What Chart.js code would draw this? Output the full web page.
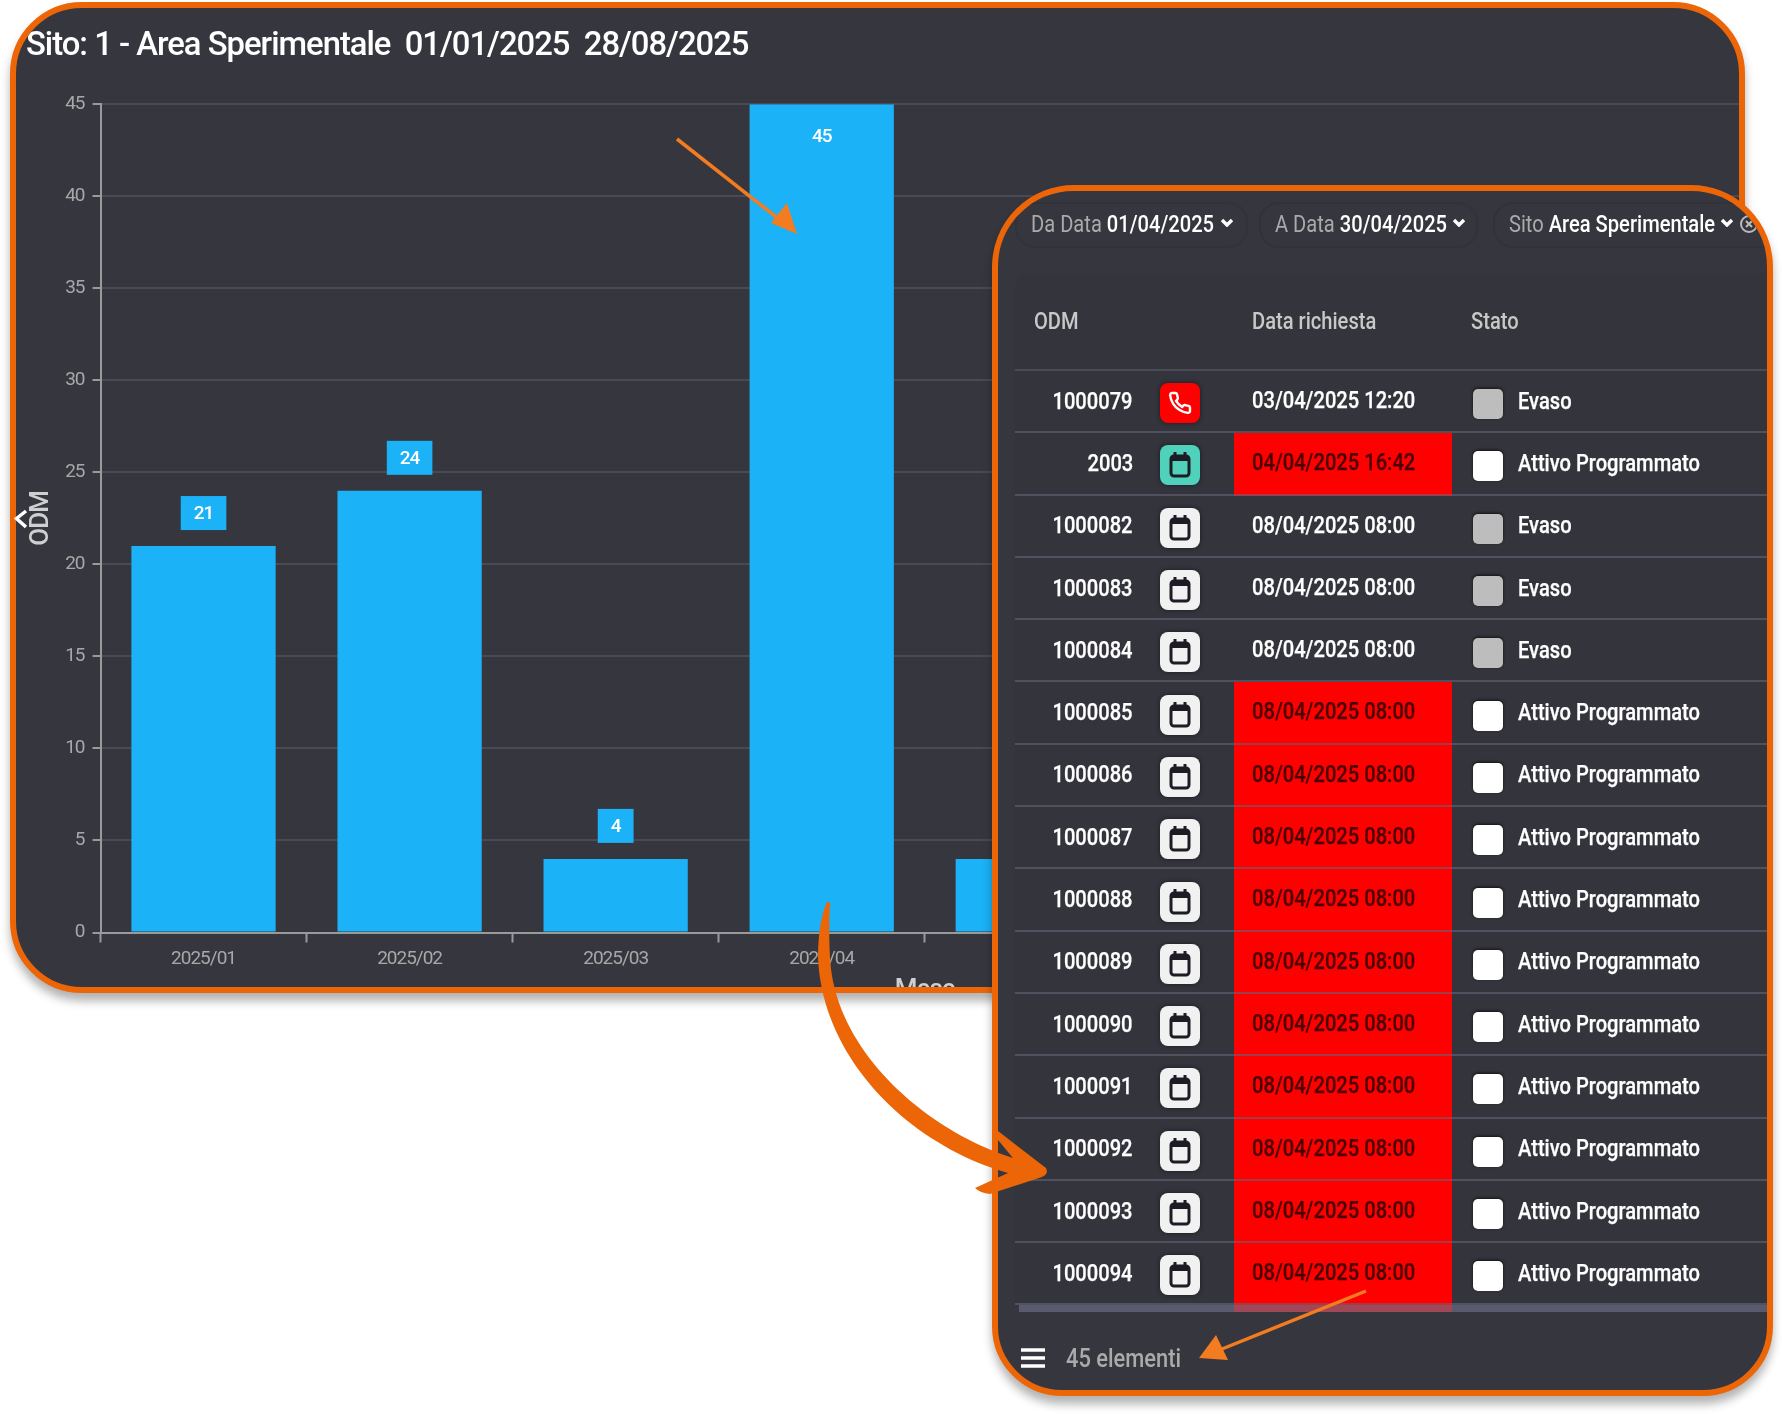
<!DOCTYPE html>
<html>
<head>
<meta charset="utf-8">
<title>ODM</title>
<script src="https://cdn.jsdelivr.net/npm/chart.js@4/dist/chart.umd.min.js"></script>
<style>
    html, body { margin: 0; padding: 0; background: #fff; }
    body { position: relative; width: 1782px; height: 1414px; overflow: hidden; font-family: Roboto, sans-serif; }
    .card {
        position: absolute; box-sizing: border-box; border: 6px solid #ec6608;
        background: #36363f; overflow: hidden; box-shadow: 0 8px 10px rgba(0, 0, 0, .3);
    }
    #chartCard { left: 10px; top: 2px; width: 1735px; height: 991px; border-radius: 72px; }
    #chart { position: absolute; left: 0; top: 0; }
    #tableCard { left: 992px; top: 185px; width: 781px; height: 1211px; border-radius: 82px 82px 70px 70px; color: #fff; }
    /* the UI font sits narrow in this screenshot-like panel */
    .t { display: inline-block; white-space: nowrap; transform: scaleX(.875); transform-origin: 0 50%; }
    .pill {
        position: absolute; top: 11px; height: 46px; box-sizing: border-box; border: 2px solid #32323a;
        border-radius: 20px; font-size: 23px; line-height: 42px; padding-left: 14px; white-space: nowrap; color: #aaa;
    }
    .pill b { font-weight: 500; color: #fff; }
    .pill svg { position: absolute; }
    #tableBox { position: absolute; left: 17px; top: 82px; right: 0; height: 1030px; background: #34343d; border-radius: 14px 0 0 0; }
    .head { position: absolute; top: 118px; font-size: 23px; font-weight: 500; color: #c8c8c8; line-height: 26px; }
    #rows { position: absolute; left: 17px; right: 0; top: 178px; border-top: 2px solid #4a4a56; }
    .row { position: relative; height: 62.3px; display: flex; align-items: center; font-size: 23px; font-weight: 500; -webkit-text-stroke: .25px; }
    .row::after { content: ""; position: absolute; left: 0; right: 0; bottom: 0; height: 2px; background: rgba(100, 100, 120, .6); }
    .odm { width: 118px; text-align: right; margin-top: -2px; }
    .odm .t { transform-origin: 100% 50%; }
    .icon { width: 40px; height: 40px; margin-left: 27px; margin-top: 2px; border-radius: 8px; box-shadow: 0 0 4px #1a1a20; display: block; }
    .when { position: relative; width: 218px; margin-left: 34px; height: 100%; box-sizing: border-box; padding-left: 18px; line-height: 59px; }
    .when.late { background: #f00; color: #4a0000; }
    .box { width: 30px; height: 30px; margin-left: 21px; margin-top: 4px; border-radius: 5px; box-shadow: 0 -1px 3px #111; }
    .label { margin-left: 15px; margin-top: -2px; }
    #band { position: absolute; left: 21px; right: 0; top: 1114px; height: 7px; background: rgba(110, 110, 135, .65); }
    #lateEnd { position: absolute; left: 236px; top: 1114px; width: 218px; height: 7px; background: #f00; }
    #menu { position: absolute; left: 23px; top: 1156px; width: 24px; height: 22px; }
    #count { position: absolute; left: 68px; top: 1155px; font-size: 25px; font-weight: 500; line-height: 26px; color: #aaa; }
    #overlay { position: absolute; left: 0; top: 0; z-index: 5; pointer-events: none; }
</style>
</head>
<body>

<div class="card" id="chartCard"><canvas id="chart" width="1740" height="1001"></canvas></div>

<div class="card" id="tableCard">
    <div class="pill" style="left:17px;width:233px"><span class="t">Da Data <b>01/04/2025</b></span><svg style="left:203px;top:14px" width="14" height="9" viewBox="0 0 14 9"><path d="M2 2l5 5 5-5" fill="none" stroke="#fff" stroke-width="3.4"/></svg></div>
    <div class="pill" style="left:261px;width:219px"><span class="t">A Data <b>30/04/2025</b></span><svg style="left:191px;top:14px" width="14" height="9" viewBox="0 0 14 9"><path d="M2 2l5 5 5-5" fill="none" stroke="#fff" stroke-width="3.4"/></svg></div>
    <div class="pill" style="left:495px;width:300px"><span class="t">Sito <b>Area Sperimentale</b></span><svg style="left:225px;top:14px" width="14" height="9" viewBox="0 0 14 9"><path d="M2 2l5 5 5-5" fill="none" stroke="#fff" stroke-width="3.4"/></svg>
        <svg style="left:244px;top:10px" width="20" height="20" viewBox="0 0 20 20"><circle cx="10" cy="10" r="8" fill="none" stroke="#bbb" stroke-width="2"/><path d="M7 7l6 6M13 7l-6 6" stroke="#bbb" stroke-width="2"/></svg></div>
    <div id="tableBox"></div>
    <div class="head" style="left:36px"><span class="t">ODM</span></div>
    <div class="head" style="left:254px"><span class="t">Data richiesta</span></div>
    <div class="head" style="left:473px"><span class="t">Stato</span></div>
    <div id="rows"></div>
    <div id="lateEnd"></div>
    <div id="band"></div>
    <svg id="menu" viewBox="0 0 24 22"><path d="M0 3h24M0 11h24M0 19h24" stroke="#fff" stroke-width="3.4"/></svg>
    <div id="count"><span class="t">45 elementi</span></div>
</div>

<svg id="overlay" width="1782" height="1414">
    <path d="M26 511L16.500 518.500L26 527" fill="none" stroke="#fff" stroke-width="3.5"/>
    <!-- thin pointers -->
    <path d="M677 139L780 220" stroke="#f47c20" stroke-width="3.500" fill="none"/>
    <path d="M797 234L771 223L787 203Z" fill="#f47c20"/>
    <path d="M1366 1291L1222 1349" stroke="#f47c20" stroke-width="3.500" fill="none"/>
    <path d="M1199 1358L1216 1335L1228 1360Z" fill="#f47c20"/>
    <!-- thick curved arrow from the april bar to the table -->
    <path d="M827 902L830 902C829 920 829 940 830 957C834 1050 925 1130 1013 1158L998 1140L998 1131L1046 1168Q1049 1174 1042 1177L990 1194Q980 1193 975 1188L1008 1173C910 1145 822 1060 818 957C818 935 821 915 827 902Z" fill="#ec6608"/>
</svg>

<script>
var months = ['2025/01', '2025/02', '2025/03', '2025/04', '2025/05', '2025/06', '2025/07', '2025/08'];
var odmCounts = [21, 24, 4, 45, 4, null, null, null];
var yTicks = [0, 5, 10, 15, 20, 25, 30, 35, 40, 45];

var odmIds = ['1000079', '2003', '1000082', '1000083', '1000084', '1000085', '1000086', '1000087', '1000088', '1000089', '1000090', '1000091', '1000092', '1000093', '1000094'];
var requestDates = ['03/04/2025 12:20', '04/04/2025 16:42', '08/04/2025 08:00', '08/04/2025 08:00', '08/04/2025 08:00', '08/04/2025 08:00', '08/04/2025 08:00', '08/04/2025 08:00', '08/04/2025 08:00', '08/04/2025 08:00', '08/04/2025 08:00', '08/04/2025 08:00', '08/04/2025 08:00', '08/04/2025 08:00', '08/04/2025 08:00'];
var statuses = ['Evaso', 'Attivo Programmato', 'Evaso', 'Evaso', 'Evaso', 'Attivo Programmato', 'Attivo Programmato', 'Attivo Programmato', 'Attivo Programmato', 'Attivo Programmato', 'Attivo Programmato', 'Attivo Programmato', 'Attivo Programmato', 'Attivo Programmato', 'Attivo Programmato'];

var BAR_COLOR = '#1bb2f8';

// tighter tracking for every text the chart paints
var tightText = {
    id: 'tightText',
    beforeDraw: function (chart) {
        chart.ctx.letterSpacing = '-1px';
    }
};

// value badges over the bars, the tallest one stays inside its bar
var barBadges = {
    id: 'barBadges',
    afterDatasetsDraw: function (chart) {
        var ctx = chart.ctx;
        var area = chart.chartArea;
        ctx.save();
        ctx.font = '500 19px Roboto';
        ctx.textAlign = 'center';
        ctx.textBaseline = 'middle';
        chart.getDatasetMeta(0).data.forEach(function (bar, i) {
            var value = odmCounts[i];
            if (value === null) return;
            var text = String(value);
            var w = ctx.measureText(text).width + 26;
            var h = 34;
            var cy = bar.y - 33;
            if (cy - h / 2 < area.top) cy = bar.y + 32;
            ctx.fillStyle = BAR_COLOR;
            ctx.fillRect(bar.x - w / 2, cy - h / 2, w, h);
            ctx.fillStyle = '#fff';
            ctx.fillText(text, bar.x, cy + 1);
        });
        ctx.restore();
    }
};

new Chart(document.getElementById('chart'), {
    type: 'bar',
    data: {
        labels: months,
        datasets: [{
            data: odmCounts,
            backgroundColor: BAR_COLOR,
            categoryPercentage: 0.7,
            barPercentage: 1
        }]
    },
    plugins: [tightText, barBadges],
    options: {
        responsive: false,
        animation: false,
        layout: { padding: { left: 10, right: 7 } },
        plugins: {
            legend: { display: false },
            tooltip: { enabled: false },
            title: {
                display: true,
                text: 'Sito: 1 - Area Sperimentale  01/01/2025  28/08/2025',
                align: 'start',
                color: '#fff',
                font: { family: 'Roboto', size: 32.8, weight: '500', lineHeight: 1.2 },
                padding: { top: 19, bottom: 38 }
            }
        },
        scales: {
            x: {
                afterFit: function (scale) { scale.height = 76.5; },
                grid: { drawOnChartArea: false, tickColor: '#9a9a9a', tickLength: 10, tickWidth: 2 },
                border: { color: '#9a9a9a', width: 2 },
                ticks: { color: '#a8a8a8', font: { family: 'Roboto', size: 19 }, padding: 5, maxRotation: 0 },
                title: {
                    display: true,
                    text: 'Mese',
                    color: '#cfcfcf',
                    font: { family: 'Roboto', size: 26, weight: '500' },
                    padding: { top: 0, bottom: 3 }
                }
            },
            y: {
                min: 0,
                max: 45,
                afterFit: function (scale) { scale.width = 74.5; },
                afterBuildTicks: function (scale) {
                    scale.ticks = yTicks.map(function (v) { return { value: v }; });
                },
                grid: { color: '#4a4a55', lineWidth: 2, tickColor: '#9a9a9a', tickLength: 8, tickWidth: 2 },
                border: { color: '#9a9a9a', width: 2 },
                ticks: { color: '#a8a8a8', font: { family: 'Roboto', size: 19 }, padding: 8 },
                title: {
                    display: true,
                    text: 'ODM',
                    color: '#cfcfcf',
                    font: { family: 'Roboto', size: 26, weight: '500' },
                    padding: { top: 0, bottom: 0 }
                }
            }
        }
    }
});

// small button glyphs used in the table rows
function phoneIcon() {
    return '<svg class="icon" viewBox="-8 -8 40 40" style="background:#f00"><path d="M22 16.9v3a2 2 0 0 1-2.2 2 19.8 19.8 0 0 1-8.6-3.1 19.5 19.5 0 0 1-6-6A19.8 19.8 0 0 1 2.1 4.2 2 2 0 0 1 4.1 2h3a2 2 0 0 1 2 1.7c.1 1 .4 1.9.7 2.8a2 2 0 0 1-.5 2.1L8.1 9.9a16 16 0 0 0 6 6l1.3-1.3a2 2 0 0 1 2.1-.4c.9.3 1.8.6 2.8.7a2 2 0 0 1 1.7 2z" fill="none" stroke="#fff" stroke-width="2.4"/></svg>';
}

function calendarIcon(bg, fill) {
    return '<svg class="icon" viewBox="0 0 40 40" style="background:' + bg + '"><rect x="11" y="11" width="18" height="20" rx="3" fill="' + fill + '" stroke="#1c1c24" stroke-width="3"/><path d="M10 14h20" stroke="#1c1c24" stroke-width="4"/><path d="M15 7v5M25 7v5" stroke="#1c1c24" stroke-width="3"/></svg>';
}

var rowsEl = document.getElementById('rows');
odmIds.forEach(function (id, i) {
    var active = statuses[i] !== 'Evaso';
    var icon = i === 0 ? phoneIcon() : (i === 1 ? calendarIcon('#4fd1bc', '#4fd1bc') : calendarIcon('#f1f1f1', '#f1f1f1'));
    var row = document.createElement('div');
    row.className = 'row';
    row.innerHTML = '<div class="odm"><span class="t">' + id + '</span></div>' + icon +
        '<div class="when' + (active ? ' late' : '') + '"><span class="t">' + requestDates[i] + '</span></div>' +
        '<div class="box" style="background:' + (active ? '#fff' : '#bdbdbd') + '"></div>' +
        '<div class="label"><span class="t">' + statuses[i] + '</span></div>';
    rowsEl.appendChild(row);
});
</script>
</body>
</html>
